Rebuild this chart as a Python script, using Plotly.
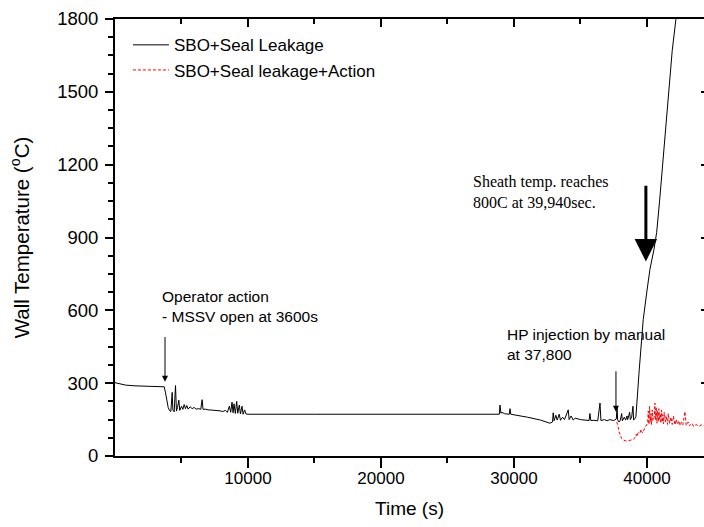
import plotly.graph_objects as go

# ---- data ----
t_base = [0, 300, 800, 1500, 2500, 3500, 3700, 3800, 3900, 4000, 4100, 4200, 4300, 4350,
          4450, 4550, 4620, 4700, 4800, 4870, 5000, 5100, 5200, 5300, 5400, 5500, 5650,
          5800, 5950, 6100, 6300, 6450, 6550, 6620, 6800, 7000, 7300, 7600, 7900, 8100,
          8300, 8450, 8600, 8700, 8800, 8880, 8950, 9050, 9150, 9230, 9350, 9430, 9550,
          9630, 9750, 9850, 10000, 15000, 20000, 25000, 28700, 28900, 28950, 29020, 29100,
          29300, 29650, 29700, 29760, 30000, 31000, 32000, 32700, 32900, 32950, 33020,
          33150, 33250, 33400, 33500, 33650, 33800, 33950, 34080, 34150, 34300, 34450,
          34600, 35000, 35300, 35650, 35710, 35780, 36000, 36300, 36470, 36540, 36800,
          37000, 37200, 37500, 37700, 37750, 37800, 37900, 38000, 38100, 38150, 38300,
          38400, 38500, 38550, 38700, 38750, 38850, 38950, 39000, 39100, 39170, 39420,
          39720, 40000, 40225, 40530, 40730, 40950, 41180, 41580, 41900, 42180, 42300]
v_base = [302, 298, 292, 289, 288, 287, 285, 260, 225, 200, 187, 183, 262, 190,
          182, 290, 185, 200, 230, 188, 205, 192, 212, 195, 208, 193, 203,
          195, 200, 193, 195, 192, 232, 192, 193, 190, 189, 188, 186, 183,
          188, 180, 205, 180, 222, 178, 215, 175, 225, 176, 210, 173, 205,
          172, 190, 173, 172, 172, 172, 172, 172, 172, 210, 176, 180,
          174, 172, 195, 172, 170, 160, 148, 135, 140, 178, 145,
          168, 148, 172, 147, 160, 150, 175, 190, 150, 165, 148,
          156, 150, 148, 146, 175, 146, 147, 145, 218, 146, 150,
          145, 150, 146, 153, 205, 148, 140, 148, 175, 145, 160,
          148, 165, 150, 180, 150, 160, 205, 148, 155, 162, 355,
          562, 680, 769, 851, 921, 1050, 1194, 1471, 1670, 1800, 1860]

t_act = [37720, 37800, 37900, 38000, 38100, 38220, 38400, 38600, 38800, 38970, 39100,
         39200, 39250, 39350, 39470, 39550, 39600, 39700, 39800, 39900, 39970, 40050,
         40100, 40150, 40200, 40250, 40300, 40350, 40400, 40450, 40550, 40600, 40650,
         40700, 40750, 40800, 40850, 40900, 40950, 41000, 41050, 41100, 41150, 41200,
         41250, 41300, 41400, 41450, 41550, 41600, 41700, 41800, 41900, 42000, 42100,
         42200, 42300, 42400, 42500, 42600, 42700, 42860, 42950, 43100, 43200, 43400,
         43500, 43700, 43900, 44100, 44300, 44500]
v_act = [140, 130, 100, 82, 72, 66, 62, 63, 65, 68, 75,
         90, 80, 97, 94, 110, 100, 95, 112, 120, 128, 135,
         185, 130, 204, 140, 175, 130, 190, 145, 160, 218, 150,
         200, 135, 185, 140, 195, 150, 175, 135, 190, 140, 170,
         132, 180, 140, 165, 130, 175, 135, 160, 130, 165, 128,
         150, 130, 145, 125, 140, 128, 183, 126, 140, 125, 135,
         122, 130, 122, 128, 124, 130]

series_names = ["SBO+Seal Leakage", "SBO+Seal leakage+Action"]
x_ticks = [10000, 20000, 30000, 40000]
x_tick_text = ["10000", "20000", "30000", "40000"]
x_minor = [5000, 15000, 25000, 35000]
y_ticks = [0, 300, 600, 900, 1200, 1500, 1800]

FONT = "Liberation Sans, Arial, sans-serif"
SERIF = "Liberation Serif, Times New Roman, serif"

fig = go.Figure()
fig.add_trace(go.Scatter(x=t_base, y=v_base, mode="lines", name=series_names[0],
                         line=dict(color="black", width=1)))
fig.add_trace(go.Scatter(x=t_act, y=v_act, mode="lines", name=series_names[1],
                         line=dict(color="#ff0000", width=1, dash="3px,2px")))
# helper trace so the mirrored (inward-tick) axes are drawn
fig.add_trace(go.Scatter(x=[None], y=[None], xaxis="x2", yaxis="y2",
                         showlegend=False, hoverinfo="skip"))

XMAX = 44290
fig.update_layout(
    width=704, height=527,
    margin=dict(l=115, r=0, t=19, b=71, autoexpand=False),
    paper_bgcolor="white", plot_bgcolor="white",
    font=dict(family=FONT, color="black", size=17),
    showlegend=True,
    legend=dict(x=0.022, y=0.981, xanchor="left", yanchor="top",
                bgcolor="rgba(0,0,0,0)", font=dict(size=17, family=FONT),
                tracegroupgap=0, itemwidth=36),
    xaxis=dict(range=[0, XMAX], showgrid=False, zeroline=False,
               showline=True, linecolor="black", linewidth=2, mirror=True,
               tickmode="array", tickvals=x_ticks, ticktext=x_tick_text,
               ticks="outside", ticklen=10, tickwidth=1.5, tickcolor="black",
               tickfont=dict(size=17, family=FONT), ticklabelstandoff=-4,
               minor=dict(tickvals=x_minor, ticks="outside", ticklen=5,
                          tickwidth=1.5, tickcolor="black"),
               title=dict(text="Time (s)", font=dict(size=19, family=FONT), standoff=14)),
    yaxis=dict(range=[0, 1800], showgrid=False, zeroline=False,
               showline=True, linecolor="black", linewidth=2,
               tickmode="array", tickvals=y_ticks, ticks="outside",
               ticklen=8, tickwidth=1.5, tickcolor="black",
               tickfont=dict(size=18.5, family=FONT), ticklabelstandoff=3,
               minor=dict(dtick=75, ticks="outside", ticklen=5,
                          tickwidth=1.5, tickcolor="black"),
               title=dict(text="Wall Temperature (<sup>o</sup>C)",
                          font=dict(size=20.5, family=FONT), standoff=22)),
    xaxis2=dict(range=[0, XMAX], overlaying="x", side="top", anchor="y",
                showgrid=False, zeroline=False, showline=False,
                tickmode="array", tickvals=x_ticks, ticks="inside",
                ticklen=8, tickwidth=1.5, tickcolor="black", showticklabels=False,
                minor=dict(tickvals=x_minor, ticks="inside", ticklen=5,
                           tickwidth=1.5, tickcolor="black")),
    yaxis2=dict(range=[0, 1800], overlaying="y", side="right", anchor="x",
                showgrid=False, zeroline=False, showline=False,
                tickmode="array", tickvals=y_ticks, ticks="inside",
                ticklen=3, tickwidth=1.5, tickcolor="black", showticklabels=False),
)

# annotation texts
fig.add_annotation(x=3400, y=530, xref="x", yref="y", xanchor="left", yanchor="bottom",
                   text="Operator action<br>- MSSV open at 3600s", showarrow=False,
                   align="left", font=dict(size=15.5, family=FONT))
fig.add_annotation(x=3760, y=306, ax=3760, ay=496, xref="x", yref="y",
                   axref="x", ayref="y", text="", showarrow=True,
                   arrowhead=2, arrowsize=1.2, arrowwidth=1, arrowcolor="black")

fig.add_annotation(x=29300, y=375, xref="x", yref="y", xanchor="left", yanchor="bottom",
                   text="HP injection by manual<br>at 37,800", showarrow=False,
                   align="left", font=dict(size=15.5, family=FONT))
fig.add_annotation(x=37670, y=182, ax=37670, ay=355, xref="x", yref="y",
                   axref="x", ayref="y", text="", showarrow=True,
                   arrowhead=2, arrowsize=1.2, arrowwidth=1, arrowcolor="black")

fig.add_annotation(x=26800, y=1000, xref="x", yref="y", xanchor="left", yanchor="bottom",
                   text="Sheath temp. reaches<br>800C at 39,940sec.", showarrow=False,
                   align="left", font=dict(size=16, family=SERIF))
fig.add_annotation(x=39920, y=801, ax=39920, ay=1119, xref="x", yref="y",
                   axref="x", ayref="y", text="", showarrow=True,
                   arrowhead=2, arrowsize=1.5, arrowwidth=3, arrowcolor="black")

fig.write_html("out.html")
